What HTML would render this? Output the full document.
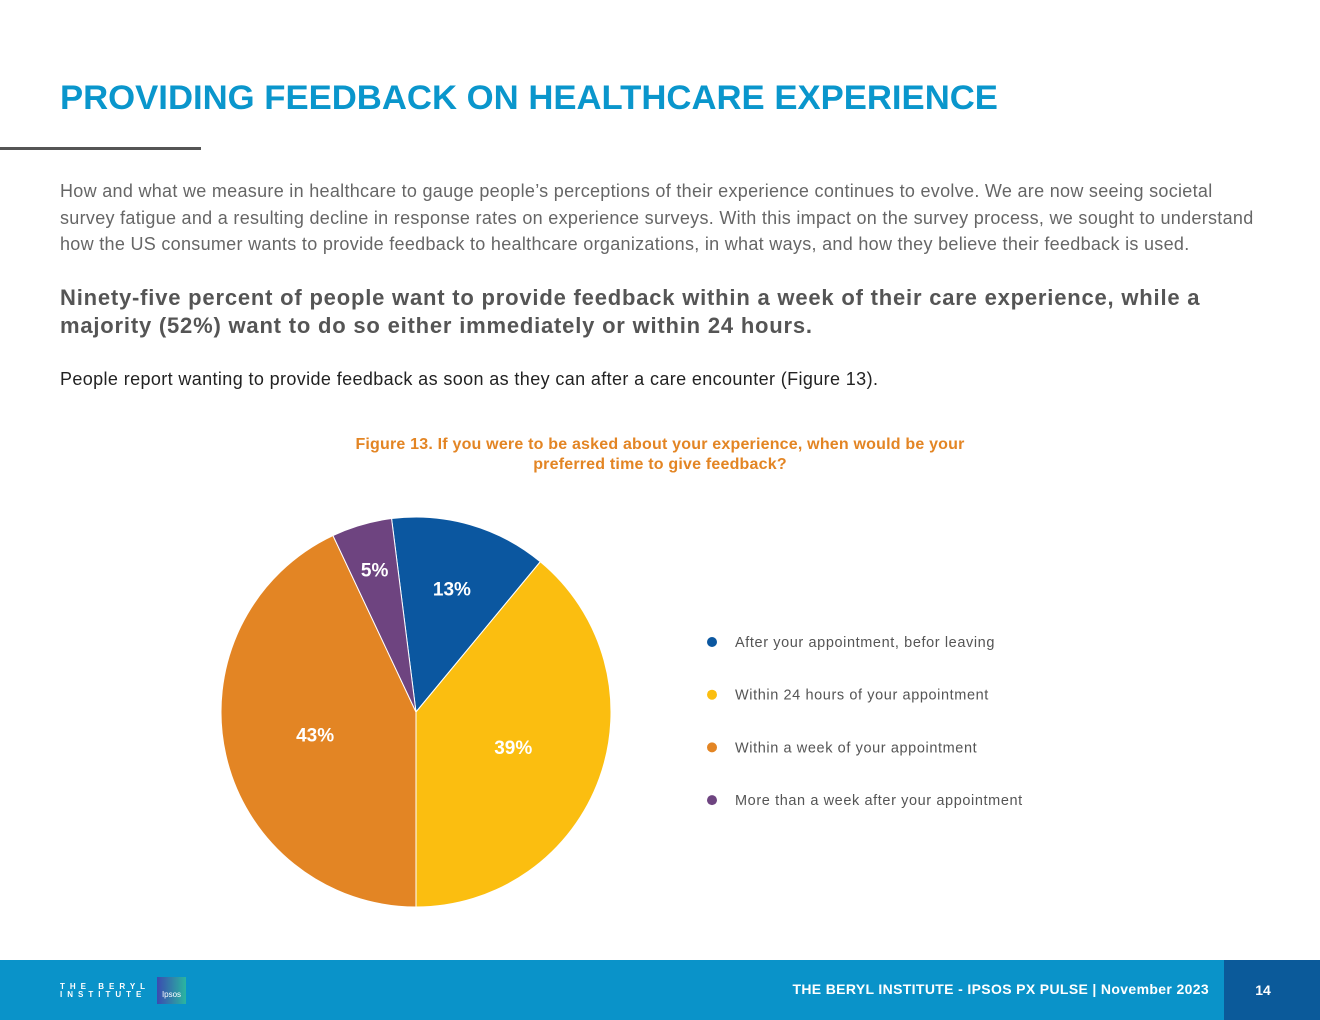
<!DOCTYPE html>
<html><head><meta charset="utf-8"><style>
body{margin:0;width:1320px;height:1020px;position:relative;background:#fff;font-family:"Liberation Sans",sans-serif;overflow:hidden}
.a{position:absolute}
</style></head><body>
<div class="a" style="left:60px;top:79px;font-size:34.7px;font-weight:bold;color:#0a96cc">PROVIDING FEEDBACK ON HEALTHCARE EXPERIENCE</div>
<div class="a" style="left:0;top:147px;width:201px;height:3px;background:#555"></div>
<div class="a" style="left:60px;top:178px;width:1200px;font-size:18px;letter-spacing:0.3px;line-height:26.5px;color:#666">How and what we measure in healthcare to gauge people’s perceptions of their experience continues to evolve. We are now seeing societal survey fatigue and a resulting decline in response rates on experience surveys. With this impact on the survey process, we sought to understand how the US consumer wants to provide feedback to healthcare organizations, in what ways, and how they believe their feedback is used.</div>
<div class="a" style="left:60px;top:284px;width:1215px;font-size:22px;letter-spacing:0.8px;line-height:28px;font-weight:bold;color:#555">Ninety-five percent of people want to provide feedback within a week of their care experience, while a majority (52%) want to do so either immediately or within 24 hours.</div>
<div class="a" style="left:60px;top:369px;font-size:18px;letter-spacing:0.38px;color:#222">People report wanting to provide feedback as soon as they can after a care encounter (Figure 13).</div>
<div class="a" style="left:300px;top:435px;width:720px;text-align:center;font-size:16px;letter-spacing:0.2px;line-height:20px;font-weight:bold;color:#e38524">Figure 13. If you were to be asked about your experience, when would be your<br>preferred time to give feedback?</div>
<svg id="pie" class="a" style="left:0;top:0" width="1320" height="960"></svg>
<div class="a" style="left:0;top:960px;width:1320px;height:60px;background:#0a93c9"></div>
<div class="a" style="left:60px;top:983px;color:#fff;font-size:8px;font-weight:bold;letter-spacing:5px;line-height:8px">THE BERYL<br>INSTITUTE</div>
<div class="a" style="left:157px;top:977px;width:29px;height:27px;background:linear-gradient(90deg,#3b4bb0,#2ab6a0);color:#fff;font-size:8px;text-align:center;line-height:36px">Ipsos</div>
<div class="a" style="left:700px;top:981px;width:509px;text-align:right;color:#fff;font-size:14px;letter-spacing:0.35px;font-weight:bold">THE BERYL INSTITUTE - IPSOS PX PULSE | November 2023</div>
<div class="a" style="left:1224px;top:960px;width:78px;height:60px;background:#0b5a9a;color:#fff;font-size:14px;font-weight:bold;text-align:center;line-height:60px;padding-right:18px">14</div>
<script>
const categories=["After your appointment, befor leaving","Within 24 hours of your appointment","Within a week of your appointment","More than a week after your appointment"];
const values=[13,39,43,5];
const labels=["13%","39%","43%","5%"];
const colors=["#0b57a0","#fbbe10","#e38524","#6e4480"];
const svg=document.getElementById('pie');const NS="http://www.w3.org/2000/svg";
const cx=416,cy=712,R=195,start=-7.2;
const total=values.reduce((a,b)=>a+b,0);
function pt(deg,r){const t=deg*Math.PI/180;return [cx+r*Math.sin(t),cy-r*Math.cos(t)];}
let ang=start;
values.forEach((v,i)=>{
 const sw=v/total*360,a0=ang,a1=ang+sw;ang=a1;
 const p0=pt(a0,R),p1=pt(a1,R);
 const path=document.createElementNS(NS,'path');
 path.setAttribute('d',`M${cx},${cy}L${p0[0]},${p0[1]}A${R},${R} 0 ${sw>180?1:0} 1 ${p1[0]},${p1[1]}Z`);
 path.setAttribute('fill',colors[i]);path.setAttribute('stroke','#fff');path.setAttribute('stroke-width','1');
 
 
 svg.appendChild(path);
 const lp=pt((a0+a1)/2,R*(sw<30?0.76:(sw<60?0.66:0.53)));
 const t=document.createElementNS(NS,'text');
 t.setAttribute('x',lp[0]);t.setAttribute('y',lp[1]+7);t.setAttribute('text-anchor','middle');
 t.setAttribute('fill','#fff');t.setAttribute('font-size','19');t.setAttribute('font-weight','bold');t.setAttribute('font-family','Liberation Sans, sans-serif');
 t.textContent=labels[i];
 
 
 svg.appendChild(t);
});
categories.forEach((c,i)=>{
 const y=642+i*52.7;
 const d=document.createElementNS(NS,'circle');
 d.setAttribute('cx',712);d.setAttribute('cy',y);d.setAttribute('r',5);d.setAttribute('fill',colors[i]);
 
 
 svg.appendChild(d);
 const t=document.createElementNS(NS,'text');
 t.setAttribute('x',735);t.setAttribute('y',y+5);t.setAttribute('fill','#555');t.setAttribute('font-size','14.5');t.setAttribute('letter-spacing','0.6');t.setAttribute('font-family','Liberation Sans, sans-serif');
 t.textContent=c;
 
 
 svg.appendChild(t);
});
</script>
</body></html>
